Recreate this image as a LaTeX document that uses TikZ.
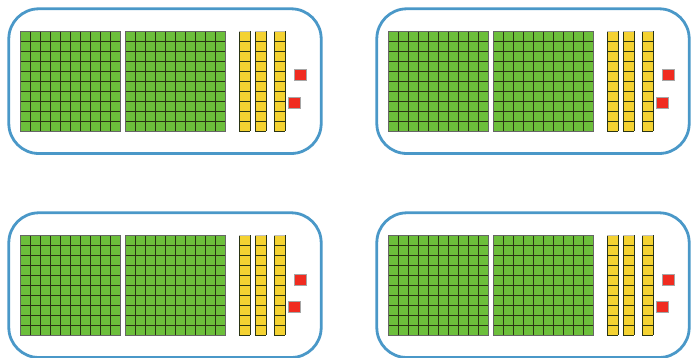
\documentclass[tikz,border=0pt]{standalone}
\definecolor{hgreen}{HTML}{6CBF3B}
\definecolor{tyellow}{HTML}{F4D232}
\definecolor{ored}{HTML}{F02B20}
\definecolor{framecol}{HTML}{4A98C8}
\definecolor{gridcol}{HTML}{2A3414}
\tikzset{
  framebox/.style={draw=framecol, line width=2.8pt, rounded corners=30pt},
  gridln/.style={draw=gridcol, line width=0.8pt},
  outerln/.style={draw=gray!80!black, line width=0.9pt},
  onebox/.style={fill=ored, draw=gray!70, line width=1pt},
}
\begin{document}
\begin{tikzpicture}[x=1pt,y=-1pt]
\useasboundingbox (0,0) rectangle (693,358);
\foreach \ox/\oy in {0/0,368/0,0/204,368/204}{
\begin{scope}[shift={(\ox,\oy)}]
  \draw[framebox] (8.8,8.8) rectangle (321.2,153.5);
  % hundreds
  \foreach \hx in {20.3,125.3}{
    \fill[hgreen] (\hx,31) rectangle ++(100,100);
    \foreach \i in {1,...,9}{
      \draw[gridln] (\hx+10*\i,31) -- (\hx+10*\i,131);
      \draw[gridln] (\hx,31+10*\i) -- (\hx+100,31+10*\i);
    }
    \draw[outerln] (\hx,31) rectangle ++(100,100);
  }
  % tens
  \foreach \tx in {239.3,255.3,274.3}{
    \fill[tyellow] (\tx,31) rectangle ++(11,100);
    \foreach \i in {1,...,9}{
      \draw[gridln] (\tx,31+10*\i) -- (\tx+11,31+10*\i);
    }
    \draw[gridln] (\tx,31) -- (\tx,131);
    \draw[gridln] (\tx+11,31) -- (\tx+11,131);
    \draw[gridln] (\tx,131) -- (\tx+11,131);
    \draw[draw=gray!50, line width=0.8pt] (\tx,31) -- (\tx+11,31);
  }
  % ones
  \draw[onebox] (294.7,70) rectangle ++(11.3,11);
  \draw[onebox] (288.7,97.8) rectangle ++(11.3,11);
\end{scope}
}
\end{tikzpicture}
\end{document}
